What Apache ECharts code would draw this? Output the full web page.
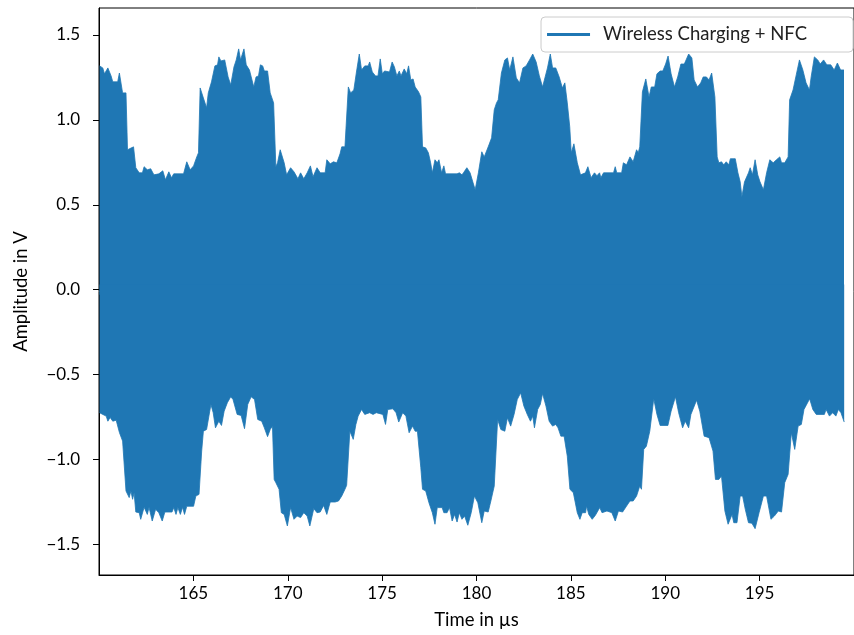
<!DOCTYPE html>
<html>
<head>
<meta charset="utf-8">
<script src="https://cdn.jsdelivr.net/npm/echarts@6/dist/echarts.min.js"></script>
<style>
html,body{margin:0;padding:0;background:#fff;}
#chart{width:854px;height:635px;}
</style>
</head>
<body>
<div id="chart"></div>
<script>
// Upper envelope of the signal (time in µs, amplitude in V)
const upperT = [
160.03,160.20,160.29,160.47,160.64,160.73,160.99,161.08,161.25,161.43,
161.51,161.83,161.95,162.13,162.30,162.39,162.56,162.74,162.91,163.17,
163.38,163.52,163.70,163.84,163.96,164.48,164.65,164.83,165.01,165.18,
165.27,165.36,165.44,165.53,165.70,165.79,165.96,166.14,166.28,166.35,
166.46,166.66,166.84,166.98,167.15,167.27,167.40,167.50,167.68,167.80,
167.97,168.20,168.32,168.45,168.55,168.67,168.76,168.93,169.07,169.25,
169.37,169.46,169.60,169.81,169.94,170.15,170.33,170.54,170.68,170.85,
171.03,171.20,171.34,171.55,171.72,171.98,172.07,172.25,172.42,172.60,
172.77,172.86,173.03,173.21,173.33,173.50,173.64,173.79,173.91,174.08,
174.26,174.34,174.48,174.65,174.78,174.90,175.01,175.13,175.39,175.53,
175.65,175.78,175.91,176.00,176.17,176.30,176.40,176.52,176.64,176.75,
176.93,177.05,177.14,177.31,177.45,177.57,177.66,177.80,177.92,178.01,
178.15,178.27,178.36,178.97,179.09,179.23,179.31,179.49,179.66,179.93,
180.10,180.28,180.41,180.62,180.80,180.94,181.06,181.15,181.32,181.50,
181.64,181.76,181.93,182.11,182.28,182.46,182.63,182.81,182.98,183.16,
183.33,183.50,183.59,183.76,183.91,184.03,184.20,184.38,184.55,184.68,
184.81,184.94,185.02,185.16,185.34,185.51,185.77,185.90,186.07,186.25,
186.38,186.52,186.59,186.73,187.26,187.35,187.43,187.69,187.78,187.95,
188.13,188.30,188.48,188.57,188.65,188.79,188.97,189.14,189.26,189.44,
189.56,189.73,189.87,190.02,190.15,190.31,190.49,190.66,190.83,191.01,
191.24,191.41,191.53,191.71,191.88,192.01,192.18,192.32,192.46,192.63,
192.75,192.84,192.98,193.10,193.23,193.37,193.45,193.71,193.85,193.97,
194.06,194.20,194.41,194.50,194.62,194.76,194.90,195.02,195.20,195.37,
195.54,195.72,195.89,196.07,196.16,196.33,196.51,196.59,196.77,196.94,
197.11,197.29,197.46,197.64,197.73,197.90,198.08,198.21,198.39,198.56,
198.77,198.95,199.12,199.29,199.47
];
const upperV = [
1.318,1.306,1.271,1.306,1.259,1.224,1.224,1.276,1.159,1.159,
0.824,0.841,0.718,0.688,0.688,0.724,0.706,0.712,0.676,0.682,
0.700,0.647,0.694,0.659,0.682,0.682,0.753,0.706,0.729,0.782,
0.806,1.188,1.188,1.129,1.071,1.159,1.224,1.318,1.324,1.371,
1.347,1.353,1.253,1.206,1.312,1.353,1.418,1.353,1.418,1.324,
1.294,1.194,1.253,1.259,1.324,1.318,1.288,1.288,1.159,1.100,
0.724,0.747,0.824,0.747,0.676,0.718,0.694,0.653,0.688,0.653,
0.688,0.729,0.665,0.718,0.688,0.688,0.765,0.741,0.753,0.747,
0.800,0.841,0.841,1.194,1.159,1.176,1.282,1.388,1.294,1.318,
1.318,1.341,1.282,1.259,1.259,1.359,1.271,1.288,1.282,1.341,
1.312,1.259,1.288,1.259,1.300,1.271,1.318,1.235,1.241,1.194,
1.165,1.135,0.841,0.835,0.806,0.747,0.688,0.765,0.747,0.765,
0.688,0.729,0.682,0.682,0.688,0.676,0.688,0.718,0.688,0.588,
0.688,0.812,0.782,0.841,0.894,1.059,1.100,1.118,1.276,1.353,
1.365,1.294,1.371,1.247,1.218,1.306,1.318,1.353,1.388,1.341,
1.259,1.194,1.194,1.306,1.388,1.306,1.306,1.253,1.188,1.218,
1.100,0.959,0.806,0.859,0.747,0.676,0.688,0.724,0.659,0.688,
0.671,0.688,0.659,0.688,0.688,0.724,0.688,0.688,0.747,0.735,
0.782,0.753,0.824,0.806,0.841,1.165,1.241,1.135,1.194,1.194,
1.271,1.288,1.288,1.329,1.376,1.271,1.194,1.253,1.329,1.329,
1.388,1.365,1.235,1.194,1.218,1.253,1.253,1.235,1.276,1.135,
0.782,0.747,0.753,0.735,0.753,0.735,0.771,0.771,0.688,0.635,
0.547,0.635,0.688,0.718,0.676,0.765,0.676,0.635,0.588,0.688,
0.765,0.747,0.765,0.782,0.747,0.747,0.782,1.118,1.176,1.265,
1.353,1.294,1.218,1.176,1.253,1.371,1.353,1.329,1.353,1.324,
1.324,1.294,1.335,1.294,1.294
];
// Lower envelope of the signal
const lowerT = [
160.03,160.20,160.38,160.47,160.59,160.73,160.91,161.08,161.17,161.25,
161.43,161.60,161.69,161.78,161.86,161.95,162.13,162.21,162.39,162.56,
162.65,162.82,163.00,163.17,163.35,163.49,163.87,163.96,164.08,164.18,
164.31,164.43,164.53,164.65,165.01,165.13,165.30,165.44,165.53,165.70,
165.93,166.05,166.17,166.35,166.49,166.63,166.80,166.98,167.10,167.32,
167.53,167.71,167.88,168.06,168.24,168.41,168.62,168.76,168.93,169.07,
169.19,169.28,169.37,169.54,169.66,169.81,169.98,170.15,170.33,170.50,
170.68,170.85,171.03,171.17,171.38,171.55,171.72,171.90,172.07,172.25,
172.51,172.69,172.86,173.03,173.12,173.29,173.47,173.61,173.73,173.91,
174.08,174.34,174.52,174.69,175.04,175.18,175.30,175.57,175.74,175.88,
176.09,176.26,176.43,176.61,176.75,176.87,177.05,177.14,177.31,177.48,
177.66,177.80,177.92,178.18,178.27,178.44,178.57,178.71,178.84,178.97,
179.09,179.23,179.37,179.54,179.72,179.89,180.07,180.28,180.41,180.62,
180.76,180.94,181.12,181.29,181.50,181.64,181.81,181.99,182.16,182.34,
182.51,182.69,182.86,182.98,183.07,183.24,183.38,183.50,183.68,183.85,
184.03,184.20,184.32,184.47,184.64,184.81,184.95,185.13,185.34,185.48,
185.60,185.78,185.83,185.95,186.13,186.30,186.53,186.65,186.91,187.17,
187.35,187.52,187.74,187.95,188.13,188.30,188.48,188.65,188.74,188.86,
189.00,189.18,189.39,189.56,189.73,190.14,190.31,190.54,190.71,190.92,
191.06,191.24,191.36,191.66,191.83,192.06,192.32,192.53,192.66,192.84,
192.98,193.16,193.33,193.54,193.63,193.80,193.97,194.10,194.24,194.41,
194.59,194.76,194.97,195.20,195.37,195.60,195.78,195.99,196.16,196.33,
196.51,196.68,196.86,197.04,197.21,197.35,197.65,197.82,198.00,198.43,
198.52,198.70,198.87,199.04,199.17,199.31,199.48
];
const lowerV = [
-0.725,-0.735,-0.745,-0.775,-0.753,-0.775,-0.769,-0.841,-0.834,-0.892,
-1.186,-1.225,-1.186,-1.235,-1.196,-1.310,-1.314,-1.353,-1.282,-1.324,
-1.282,-1.363,-1.294,-1.314,-1.363,-1.310,-1.310,-1.284,-1.324,-1.284,
-1.324,-1.282,-1.324,-1.276,-1.276,-1.216,-1.206,-0.951,-0.834,-0.824,
-0.676,-0.725,-0.814,-0.775,-0.800,-0.716,-0.666,-0.631,-0.647,-0.735,
-0.741,-0.819,-0.676,-0.631,-0.647,-0.765,-0.775,-0.814,-0.866,-0.824,
-0.804,-1.118,-1.137,-1.176,-1.314,-1.324,-1.392,-1.284,-1.353,-1.334,
-1.343,-1.314,-1.334,-1.392,-1.290,-1.314,-1.310,-1.271,-1.324,-1.251,
-1.251,-1.245,-1.216,-1.176,-1.153,-0.834,-0.882,-0.794,-0.745,-0.706,
-0.735,-0.725,-0.735,-0.725,-0.735,-0.794,-0.706,-0.702,-0.725,-0.780,
-0.725,-0.745,-0.843,-0.804,-0.834,-0.834,-1.049,-1.176,-1.186,-1.255,
-1.314,-1.382,-1.284,-1.284,-1.314,-1.314,-1.284,-1.363,-1.324,-1.369,
-1.314,-1.353,-1.334,-1.388,-1.314,-1.216,-1.255,-1.373,-1.304,-1.310,
-1.245,-1.157,-0.765,-0.824,-0.834,-0.755,-0.804,-0.735,-0.647,-0.608,
-0.686,-0.735,-0.775,-0.745,-0.814,-0.706,-0.676,-0.612,-0.686,-0.775,
-0.804,-0.794,-0.814,-0.863,-0.863,-0.981,-1.176,-1.196,-1.314,-1.353,
-1.314,-1.314,-1.275,-1.324,-1.353,-1.329,-1.284,-1.314,-1.304,-1.314,
-1.363,-1.304,-1.310,-1.275,-1.245,-1.245,-1.216,-1.157,-1.176,-0.941,
-0.922,-0.834,-0.643,-0.735,-0.800,-0.800,-0.716,-0.631,-0.725,-0.814,
-0.775,-0.814,-0.735,-0.651,-0.716,-0.863,-0.872,-0.951,-1.118,-1.118,
-1.098,-1.304,-1.382,-1.324,-1.373,-1.373,-1.216,-1.216,-1.294,-1.373,
-1.376,-1.408,-1.314,-1.216,-1.216,-1.353,-1.334,-1.304,-1.310,-1.137,
-1.088,-0.843,-0.941,-0.804,-0.794,-0.706,-0.643,-0.706,-0.735,-0.735,
-0.706,-0.745,-0.725,-0.745,-0.706,-0.725,-0.780
];
const xTicks = [165, 170, 175, 180, 185, 190, 195];
const yTicks = [-1.5, -1.0, -0.5, 0.0, 0.5, 1.0, 1.5];
const seriesName = 'Wireless Charging + NFC';
const xTitle = 'Time in µs';
const yTitle = 'Amplitude in V';

const FONT = 'Lato, "DejaVu Sans", sans-serif';
const BLUE = '#1f77b4';

const upperData = upperT.map((t, i) => [t, upperV[i]]);
const lowerData = lowerT.map((t, i) => [t, lowerV[i]]);

function fmtY(v) {
  const s = Math.abs(v).toFixed(1);
  return v < 0 ? '\u2212' + s : s;
}

const chart = echarts.init(document.getElementById('chart'), null, {renderer: 'canvas'});
const axisCommon = {
  axisLine: {show: true, onZero: false, lineStyle: {color: '#000', width: 1}},
  splitLine: {show: false}
};
chart.setOption({
  animation: false,
  backgroundColor: '#fff',
  grid: {left: 99, right: -9, top: 8, bottom: 59, show: true, borderColor: '#000', borderWidth: 1, backgroundColor: 'transparent'},
  legend: {
    right: 1, top: 17,
    icon: 'rect', itemWidth: 43, itemHeight: 3,
    padding: [8, 46, 8, 6],
    borderColor: '#cccccc', borderWidth: 1, borderRadius: 4,
    backgroundColor: 'rgba(255,255,255,0.8)',
    textStyle: {fontFamily: FONT, fontSize: 18.5, color: '#222', padding: [0, 0, 0, 8]},
    data: [seriesName]
  },
  xAxis: Object.assign({}, axisCommon, {
    type: 'value', min: 160, max: 200,
    name: xTitle, nameLocation: 'middle', nameGap: 36,
    nameTextStyle: {fontFamily: FONT, fontSize: 18.5, color: '#000'},
    axisTick: {show: true, length: 6, customValues: xTicks, lineStyle: {color: '#000', width: 1}},
    axisLabel: {customValues: xTicks, margin: 10, fontFamily: FONT, fontSize: 17, color: '#000',
      formatter: v => String(v)}
  }),
  yAxis: Object.assign({}, axisCommon, {
    type: 'value', min: -1.681, max: 1.659,
    name: yTitle, nameLocation: 'middle', nameGap: 68, nameRotate: 90,
    nameTextStyle: {fontFamily: FONT, fontSize: 18.5, color: '#000'},
    axisTick: {show: true, length: 6, customValues: yTicks, lineStyle: {color: '#000', width: 1}},
    axisLabel: {customValues: yTicks, margin: 19, fontFamily: FONT, fontSize: 17, color: '#000',
      formatter: fmtY}
  }),
  series: [
    {
      name: seriesName, type: 'line', data: upperData, symbol: 'none', showSymbol: false,
      color: BLUE, lineStyle: {color: BLUE, width: 0.8}, areaStyle: {color: BLUE, opacity: 1, origin: -0.03},
      silent: true, z: 2
    },
    {
      name: seriesName, type: 'line', data: lowerData, symbol: 'none', showSymbol: false,
      color: BLUE, lineStyle: {color: BLUE, width: 0.8}, areaStyle: {color: BLUE, opacity: 1, origin: 0.03},
      silent: true, z: 2
    }
  ]
});
</script>
</body>
</html>
